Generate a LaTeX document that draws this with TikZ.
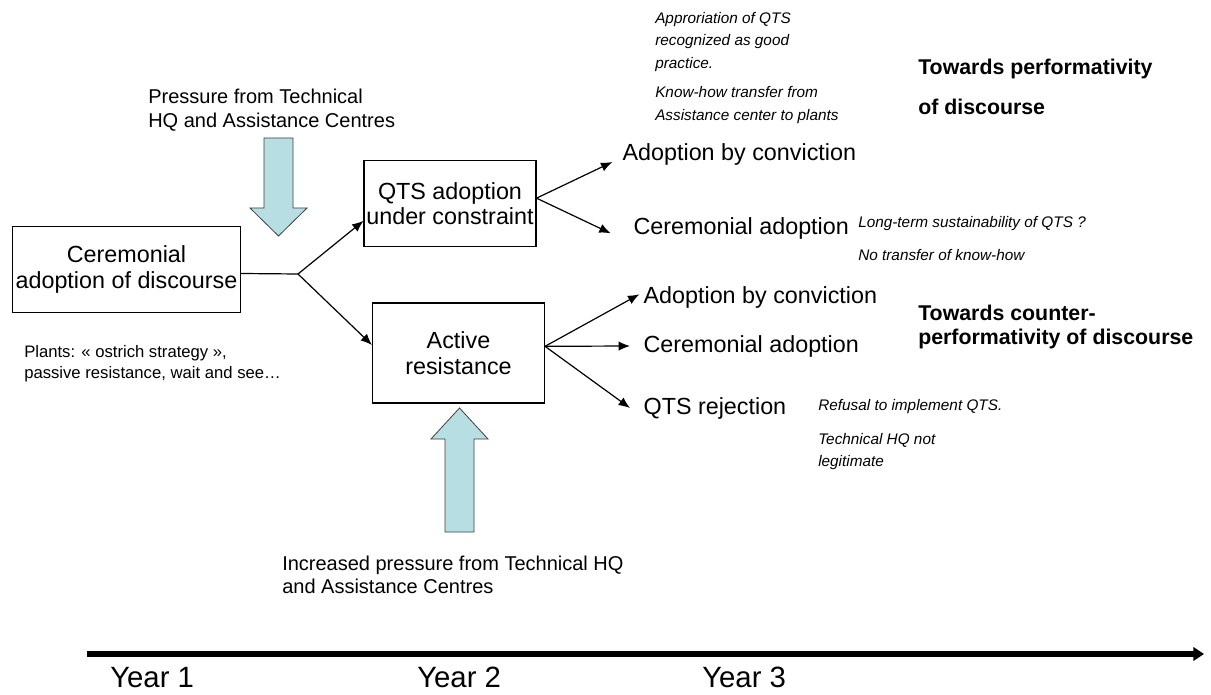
\documentclass[tikz,border=0pt]{standalone}
\usepackage{fontspec}
\setmainfont{Liberation Sans}
\usetikzlibrary{positioning,calc,arrows.meta}
\definecolor{pressblue}{RGB}{183,222,226}

\begin{document}
\begin{tikzpicture}[x=0.75pt,y=-0.75pt,>={Latex[length=8.5pt,width=7pt]},
    box/.style={draw,line width=0.8pt,align=center,inner sep=1pt,font=\fontsize{17.5}{19}\selectfont},
    lbl/.style={anchor=west,inner sep=1pt,font=\fontsize{17.5}{21}\selectfont},
    note/.style={anchor=west,align=left,inner sep=0pt,font=\fontsize{11.5}{17}\selectfont\itshape},
    plain/.style={anchor=west,align=left,inner sep=0pt,font=\fontsize{15}{17.5}\selectfont},
    trend/.style={anchor=west,align=left,inner sep=0pt,font=\fontsize{16}{18}\selectfont\bfseries},
    year/.style={anchor=west,inner sep=0pt,font=\fontsize{22}{26}\selectfont},
    link/.style={->,line width=0.9pt},
    push/.style={fill=pressblue,draw=black!75,line width=0.6pt}]

\useasboundingbox (0,0) rectangle (1211,695);

% boxes
\node[box,minimum width=171pt,minimum height=64pt] (cer) at (126.5,269.5) {Ceremonial\\adoption of discourse};
\node[box,minimum width=129pt,minimum height=64pt] (qts) at (450,203.5) {QTS adoption\\under constraint};
\node[box,minimum width=129pt,minimum height=75pt] (act) at (458.5,353) {Active\\resistance};

% outcomes
\node[lbl] (conv1) at (621,154) {Adoption by conviction};
\node[lbl] (cere1) at (632,228) {Ceremonial adoption};
\node[lbl] (conv2) at (642,297) {Adoption by conviction};
\node[lbl] (cere2) at (642,346) {Ceremonial adoption};
\node[lbl] (rej) at (642,408) {QTS rejection};

% comments
\node[plain] (press1) at (148,110) {Pressure from Technical\\HQ and Assistance Centres};
\node[plain] (press2) at (282,575) {Increased pressure from Technical HQ\\and Assistance Centres};
\node[anchor=west,align=left,inner sep=0pt,font=\fontsize{12.5}{15.5}\selectfont] (plants) at (24,363.5)
  {Plants: « ostrich strategy »,\\passive resistance, wait and see…};
\node[note] (good) at (655,68) {Approriation of QTS\\recognized as good\\practice.\\[5pt]Know-how transfer from\\Assistance center to plants};
\node[note] (sust) at (858,238.5) {Long-term sustainability of QTS ?\\[8pt]No transfer of know-how};
\node[note] (refu) at (818,435) {Refusal to implement QTS.\\[8pt]Technical HQ not\\legitimate};
\node[trend] (perf) at (918,87) {Towards performativity\\[12pt]of discourse};
\node[trend] (counter) at (918,327) {Towards counter-\\performativity of discourse};

% connectors
\coordinate (split) at (298,274);
\draw[line width=0.9pt] ([yshift=-3pt]cer.east) -- (split);
\draw[link] (split) -- ([yshift=-13pt]qts.west);
\draw[link] (split) -- ([yshift=6pt]act.west);
\draw[link] ([yshift=4pt]qts.east) -- ([xshift=-6.5pt,yshift=-6pt]conv1.west);
\draw[link] ([yshift=4pt]qts.east) -- ([xshift=-16pt,yshift=-4pt]cere1.west);
\draw[link] ([yshift=5pt]act.east) -- ([xshift=-2pt,yshift=2pt]conv2.west);
\draw[link] ([yshift=5pt]act.east) -- ([xshift=-9pt]cere2.west);
\draw[link] ([yshift=5pt]act.east) -- ([xshift=-9pt]rej.west);

% pressure arrows
\coordinate (pdown) at (278.5,236);
\draw[push] (pdown) -- ++(-28.5,-28) -- ++(14,0) -- ++(0,-70) -- ++(29,0) -- ++(0,70) -- ++(14,0) -- cycle;
\coordinate (pup) at (459.5,408);
\draw[push] (pup) -- ++(-28.5,31) -- ++(14,0) -- ++(0,93) -- ++(29,0) -- ++(0,-93) -- ++(14,0) -- cycle;

% time line
\coordinate (t0) at (87,654);
\coordinate (t1) at (1204,654);
\draw[line width=4.5pt,-{Triangle[length=8pt,width=10pt]}] (t0) -- (t1);
\node[year] (y1) at (110,677.5) {Year 1};
\node[year] (y2) at (417,677.5) {Year 2};
\node[year] (y3) at (702,677.5) {Year 3};
\end{tikzpicture}
\end{document}
